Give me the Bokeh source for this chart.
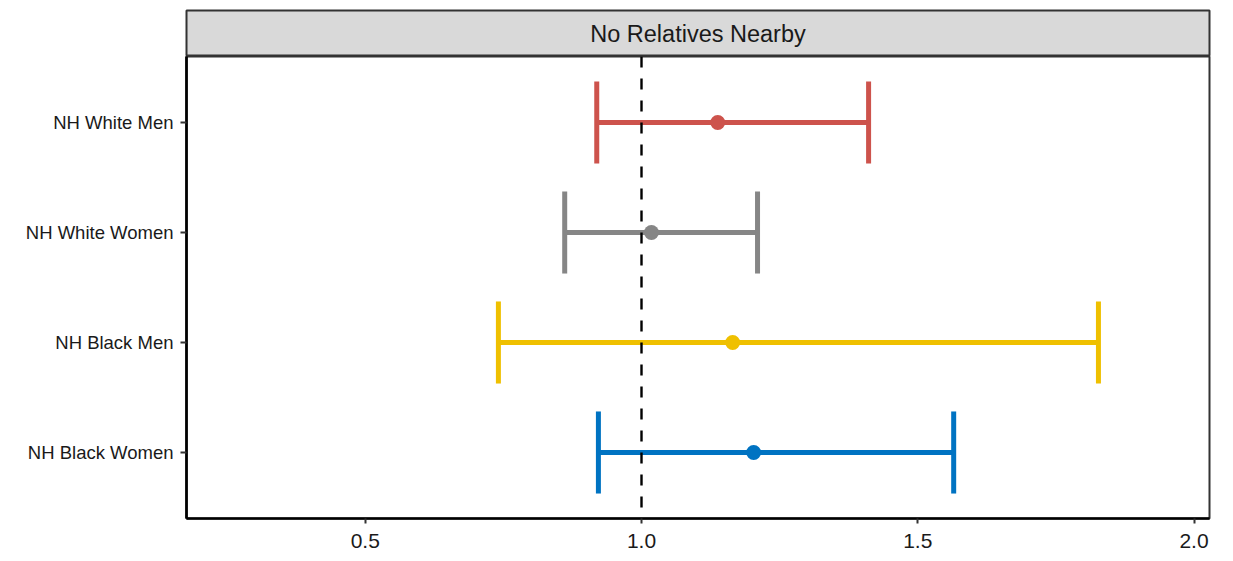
from bokeh.plotting import figure
from bokeh.layouts import column
from bokeh.models import ColumnDataSource, FixedTicker, Span, Label, Range1d
from bokeh.embed import file_html
from bokeh.resources import INLINE

# ---- data ----
groups = ["NH White Men", "NH White Women", "NH Black Men", "NH Black Women"]
estimate = [1.138, 1.018, 1.165, 1.203]
lower = [0.919, 0.861, 0.741, 0.922]
upper = [1.411, 1.210, 1.827, 1.565]
colors = ["#CD534C", "#868686", "#EFC000", "#0073C2"]
x_ticks = [0.5, 1.0, 1.5, 2.0]
x_tick_labels = ["0.5", "1.0", "1.5", "2.0"]
panel_title = "No Relatives Nearby"
ref_value = 1.0

FONT = "Liberation Sans"
W = 1225
LEFT = 186
RIGHT = 16

n = len(groups)
ypos = [n - i for i in range(n)]
cap = 0.373
src = ColumnDataSource(dict(
    y=ypos, est=estimate, lo=lower, hi=upper, color=colors,
    ylo=[v - cap for v in ypos], yhi=[v + cap for v in ypos],
))

# ---- strip header ----
strip = figure(width=W, height=56, output_backend="svg", toolbar_location=None,
               x_range=Range1d(0, 1), y_range=Range1d(0, 1),
               min_border_left=LEFT, min_border_right=RIGHT,
               min_border_top=10, min_border_bottom=0,
               x_axis_location=None, y_axis_location=None)
strip.background_fill_color = "#d9d9d9"
strip.outline_line_color = "#333333"
strip.outline_line_width = 2
strip.xgrid.visible = False
strip.ygrid.visible = False
strip.add_layout(Label(x=0.5, y=0.5, text=panel_title, text_align="center",
                       text_baseline="middle", text_font=FONT,
                       text_font_size="23.5px", text_color="#1a1a1a"))

# ---- main panel ----
p = figure(width=W, height=502, output_backend="svg", toolbar_location=None,
           x_range=Range1d(0.1765, 2.028), y_range=Range1d(0.4, n + 0.6),
           min_border_left=LEFT, min_border_right=RIGHT,
           min_border_top=0, min_border_bottom=40)
p.xgrid.visible = False
p.ygrid.visible = False
p.outline_line_color = "#333333"
p.outline_line_width = 2

p.segment(x0="lo", x1="hi", y0="y", y1="y", color="color", line_width=5, source=src)
p.segment(x0="lo", x1="lo", y0="ylo", y1="yhi", color="color", line_width=5, source=src)
p.segment(x0="hi", x1="hi", y0="ylo", y1="yhi", color="color", line_width=5, source=src)
p.scatter(x="est", y="y", color="color", size=15, line_color=None, source=src)

p.add_layout(Span(location=ref_value, dimension="height", line_color="black",
                  line_dash="11 11", line_width=2.4))

xa = p.xaxis[0]
xa.ticker = FixedTicker(ticks=x_ticks)
xa.major_label_overrides = {t: l for t, l in zip(x_ticks, x_tick_labels)}
xa.axis_line_color = "black"
xa.axis_line_width = 2.7
xa.major_tick_line_color = "#333333"
xa.major_tick_line_width = 2
xa.major_tick_out = 5
xa.major_tick_in = 0
xa.minor_tick_line_color = None
xa.major_label_standoff = 10
xa.major_label_text_font = FONT
xa.major_label_text_font_size = "21px"
xa.major_label_text_color = "#1a1a1a"

ya = p.yaxis[0]
ya.ticker = FixedTicker(ticks=ypos)
ya.major_label_overrides = {y: g for y, g in zip(ypos, groups)}
ya.axis_line_color = "black"
ya.axis_line_width = 2.7
ya.major_tick_line_color = "#333333"
ya.major_tick_line_width = 2
ya.major_tick_out = 6
ya.major_tick_in = 0
ya.minor_tick_line_color = None
ya.major_label_standoff = 7
ya.major_label_text_font = FONT
ya.major_label_text_font_size = "18.5px"
ya.major_label_text_color = "#1a1a1a"

layout = column(strip, p, spacing=0)
open("out.html", "w").write(file_html(layout, INLINE))
